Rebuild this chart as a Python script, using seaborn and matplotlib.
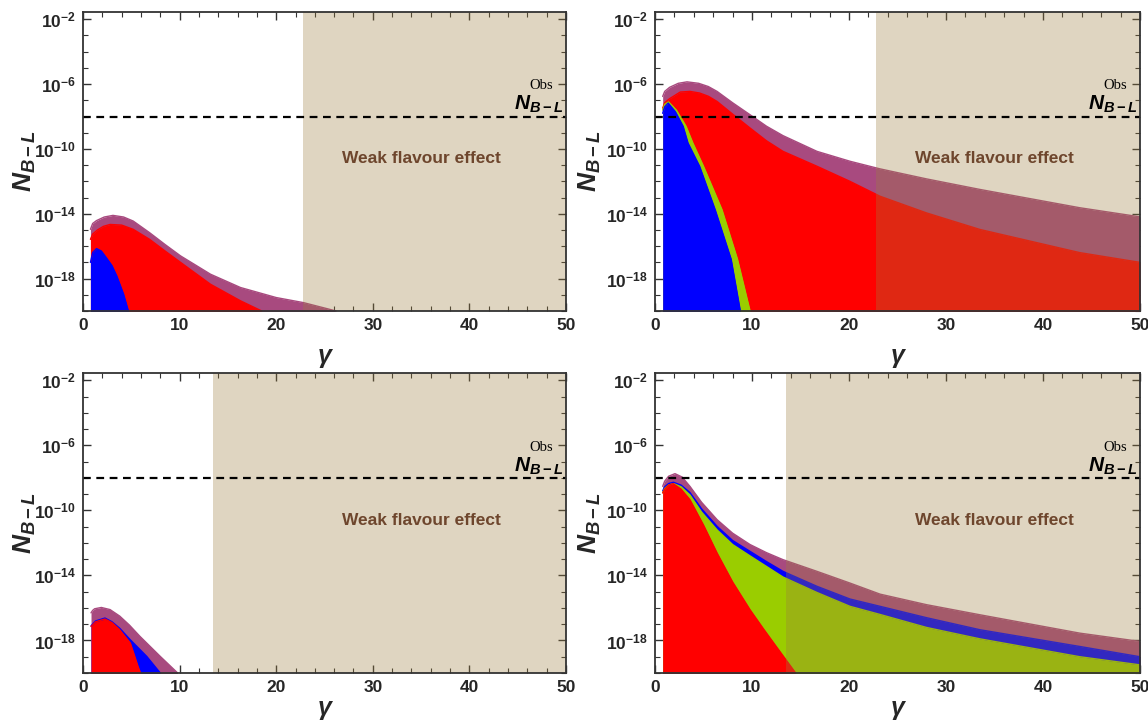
import numpy as np
import matplotlib
matplotlib.use("Agg")
import matplotlib.pyplot as plt
import seaborn as sns
from matplotlib.ticker import FixedLocator, FuncFormatter, MultipleLocator, NullFormatter

# ---------------- data (log10 of N_B-L upper envelopes) ----------------
# top-left panel
tl_purple_x = [0.77, 1.0, 1.4, 2.2, 3.1, 4.2, 5.2, 6.9, 8.5, 10.1, 13.2, 16.3, 20.0, 22.8, 26.2]
tl_purple_y = [-14.96, -14.6, -14.42, -14.2, -14.1, -14.2, -14.45, -15.17, -15.9, -16.6, -17.73, -18.55, -19.17, -19.48, -20.0]
tl_red_x = [0.77, 1.0, 1.5, 2.1, 2.8, 4.0, 5.2, 6.9, 8.5, 10.1, 13.2, 16.3, 18.5]
tl_red_y = [-15.58, -15.25, -15.0, -14.78, -14.66, -14.7, -14.96, -15.58, -16.3, -17.0, -18.35, -19.37, -20.0]
tl_blue_x = [0.77, 1.0, 1.4, 1.9, 2.4, 3.0, 3.5, 4.2, 4.7]
tl_blue_y = [-17.0, -16.4, -16.15, -16.3, -16.7, -17.2, -17.84, -18.96, -20.0]

# top-right panel
tr_purple_x = [0.79, 1.0, 1.5, 2.4, 3.3, 4.5, 5.5, 6.4, 8.0, 9.8, 11.5, 13.2, 16.7, 20.1, 23.2, 28.0, 33.5, 43.8, 50.0]
tr_purple_y = [-6.76, -6.45, -6.2, -5.95, -5.86, -5.95, -6.15, -6.45, -7.15, -7.89, -8.6, -9.18, -10.15, -10.76, -11.23, -11.85, -12.5, -13.63, -14.19]
tr_red_x = [0.79, 1.0, 1.5, 2.6, 3.6, 4.6, 5.5, 6.4, 8.0, 9.8, 11.5, 13.2, 16.7, 20.1, 23.2, 28.0, 33.5, 43.8, 50.0]
tr_red_y = [-7.48, -7.15, -6.9, -6.49, -6.45, -6.55, -6.75, -7.07, -7.85, -8.71, -9.5, -10.15, -11.07, -12.0, -12.92, -13.95, -14.97, -16.4, -17.0]
tr_green_x = [0.79, 1.0, 1.4, 2.2, 3.2, 3.9, 5.0, 6.9, 8.5, 9.8]
tr_green_y = [-7.6, -7.25, -7.1, -7.6, -8.6, -9.63, -11.07, -13.74, -16.8, -20.0]
tr_blue_x = [0.79, 1.0, 1.36, 2.1, 2.9, 3.4, 4.6, 6.2, 7.85, 8.8]
tr_blue_y = [-7.8, -7.4, -7.17, -7.7, -8.6, -9.63, -11.07, -13.74, -16.8, -20.0]

# bottom-left panel
bl_purple_x = [0.83, 1.0, 1.2, 1.9, 2.8, 3.8, 4.8, 5.9, 8.0, 9.8]
bl_purple_y = [-16.3, -16.15, -16.05, -15.97, -16.1, -16.5, -17.05, -17.75, -18.98, -20.0]
bl_blue_x = [0.83, 1.3, 2.27, 3.0, 3.8, 4.9, 6.6, 8.0]
bl_blue_y = [-17.1, -16.8, -16.62, -16.85, -17.25, -17.96, -18.98, -20.0]
bl_red_x = [0.83, 1.3, 2.27, 3.0, 3.8, 4.9, 5.7, 5.95]
bl_red_y = [-17.14, -16.85, -16.68, -16.9, -17.34, -18.16, -19.6, -20.0]

# bottom-right panel
br_purple_x = [0.79, 1.0, 1.4, 2.06, 2.8, 3.6, 4.8, 6.4, 8.0, 9.8, 11.5, 13.2, 16.7, 20.1, 23.2, 28.0, 33.5, 43.8, 50.0]
br_purple_y = [-8.52, -8.2, -7.9, -7.74, -7.95, -8.52, -9.5, -10.57, -11.4, -12.1, -12.6, -13.03, -13.75, -14.47, -15.15, -15.8, -16.42, -17.55, -18.06]
br_blue_x = [0.79, 1.0, 1.4, 1.9, 2.7, 3.6, 4.8, 6.4, 8.0, 9.8, 11.5, 13.2, 16.7, 20.1, 23.2, 28.0, 33.5, 43.8, 50.0]
br_blue_y = [-8.8, -8.55, -8.35, -8.27, -8.45, -8.9, -9.9, -10.98, -11.85, -12.52, -13.15, -13.75, -14.67, -15.45, -15.9, -16.6, -17.34, -18.37, -19.0]
br_green_x = [0.79, 1.0, 1.4, 1.9, 2.7, 3.6, 4.8, 6.4, 8.0, 9.8, 11.5, 13.2, 16.7, 20.1, 23.2, 28.0, 33.5, 43.8, 50.0]
br_green_y = [-8.9, -8.65, -8.45, -8.35, -8.55, -9.05, -10.1, -11.2, -12.1, -12.8, -13.45, -14.1, -15.05, -15.9, -16.4, -17.2, -17.9, -19.0, -19.5]
br_red_x = [0.79, 1.0, 1.4, 1.86, 2.7, 3.6, 5.0, 6.4, 8.0, 9.8, 11.2, 12.5, 14.5]
br_red_y = [-8.93, -8.7, -8.45, -8.35, -8.7, -9.34, -10.9, -12.62, -14.4, -16.11, -17.3, -18.37, -20.0]

# observed value, weak-flavour thresholds
obs_value = 1e-8
weak_start_top = 22.8
weak_start_bottom = 13.5

# ---------------- style ----------------
sns.set_theme(style="ticks")
plt.rcParams["font.family"] = ["Liberation Sans", "DejaVu Sans"]
plt.rcParams["mathtext.fontset"] = "custom"
plt.rcParams["mathtext.rm"] = "Liberation Sans:bold"
plt.rcParams["mathtext.it"] = "Liberation Sans:italic:bold"
plt.rcParams["mathtext.bf"] = "Liberation Sans:bold"

PURPLE = "#a84a7f"
RED = "#ff0000"
BLUE = "#0000ff"
GREEN = "#9acd00"
SHADE = "#9c7d3e"
TEXT_BROWN = "#6e462d"
FRAME = "#333333"

fig = plt.figure(figsize=(11.48, 7.26), dpi=100)
W, H = 1148.0, 726.0
positions = [
    [83 / W, 1 - 311 / H, 483 / W, 299 / H],
    [655 / W, 1 - 311 / H, 485 / W, 299 / H],
    [83 / W, 1 - 673 / H, 483 / W, 300 / H],
    [655 / W, 1 - 673 / H, 485 / W, 300 / H],
]

panels = [
    [(tl_purple_x, tl_purple_y, PURPLE), (tl_red_x, tl_red_y, RED), (tl_blue_x, tl_blue_y, BLUE)],
    [(tr_purple_x, tr_purple_y, PURPLE), (tr_red_x, tr_red_y, RED),
     (tr_green_x, tr_green_y, GREEN), (tr_blue_x, tr_blue_y, BLUE)],
    [(bl_purple_x, bl_purple_y, PURPLE), (bl_blue_x, bl_blue_y, BLUE), (bl_red_x, bl_red_y, RED)],
    [(br_purple_x, br_purple_y, PURPLE), (br_blue_x, br_blue_y, BLUE),
     (br_green_x, br_green_y, GREEN), (br_red_x, br_red_y, RED)],
]
weak_starts = [weak_start_top, weak_start_top, weak_start_bottom, weak_start_bottom]
ylabel_x = [-0.093, -0.108, -0.093, -0.108]
xlabel_y = [-0.112, -0.112, -0.078, -0.078]

major_y = [1e-18, 1e-14, 1e-10, 1e-6, 1e-2]
minor_y = [10.0 ** k for k in range(-20, -1)]


def fmt(v, pos):
    return r"$\mathdefault{10^{%d}}$" % int(round(np.log10(v)))


for i, (pos, layers) in enumerate(zip(positions, panels)):
    ax = fig.add_axes(pos)
    ax.set_yscale("log")
    for z, (xs, ys, col) in enumerate(layers):
        yv = 10.0 ** np.array(ys)
        ax.fill_between(xs, 1e-21, yv, color=col, lw=0, zorder=2 + z)
        sns.lineplot(x=xs, y=yv, ax=ax, color=col, lw=1.0, zorder=2 + z, sort=False)
    ax.axvspan(weak_starts[i], 50, color=SHADE, alpha=0.32, lw=0, zorder=10)
    ax.axhline(obs_value, color="black", ls=(0, (3.5, 2.5)), lw=1.6, zorder=12)
    ax.text(35, 10 ** -10.6, "Weak flavour effect", ha="center", va="center",
            fontsize=12.5, fontweight="bold", color=TEXT_BROWN, zorder=13)
    ax.text(0.973, 0.741, "Obs", transform=ax.transAxes, ha="right", va="baseline",
            fontsize=10.5, family="Liberation Serif", color="black", zorder=13)
    ax.text(0.994, 0.672, r"$N_{B-L}$", transform=ax.transAxes, ha="right", va="baseline",
            fontsize=15, color="black", zorder=13)

    ax.set_xlim(0, 50)
    ax.set_ylim(1e-20, 10 ** -1.55)
    ax.xaxis.set_major_locator(MultipleLocator(10))
    ax.xaxis.set_minor_locator(MultipleLocator(2))
    ax.yaxis.set_major_locator(FixedLocator(major_y))
    ax.yaxis.set_minor_locator(FixedLocator(minor_y))
    ax.yaxis.set_major_formatter(FuncFormatter(fmt))
    ax.yaxis.set_minor_formatter(NullFormatter())
    ax.tick_params(which="both", direction="in", top=True, right=True, color=FRAME)
    ax.tick_params(which="major", length=6, width=1.0, labelsize=12.5, pad=5)
    ax.tick_params(which="minor", length=3.5, width=0.8)
    for lab in ax.get_xticklabels() + ax.get_yticklabels():
        lab.set_fontweight("bold")
    for sp in ax.spines.values():
        sp.set_color(FRAME)
        sp.set_linewidth(1.3)
        sp.set_zorder(20)
    ax.set_xlabel("γ", fontsize=18, fontweight="bold", fontstyle="italic")
    ax.xaxis.set_label_coords(0.5, xlabel_y[i])
    ax.set_ylabel(r"$N_{B-L}$", fontsize=19)
    ax.yaxis.set_label_coords(ylabel_x[i], 0.5)

fig.savefig("out.png", dpi=100)
